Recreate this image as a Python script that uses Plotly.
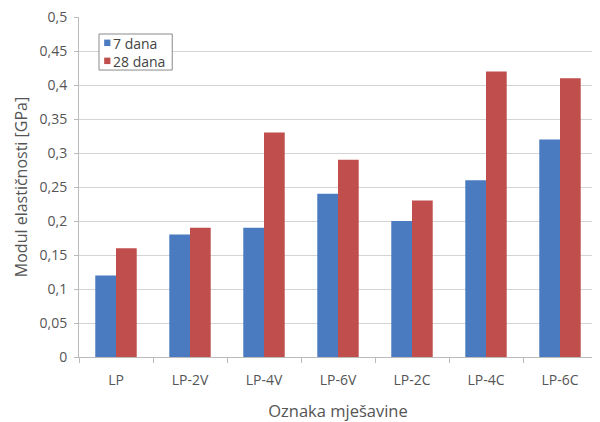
import plotly.graph_objects as go

categories = ["LP", "LP-2V", "LP-4V", "LP-6V", "LP-2C", "LP-4C", "LP-6C"]
days7 = [0.12, 0.18, 0.19, 0.24, 0.20, 0.26, 0.32]
days28 = [0.16, 0.19, 0.33, 0.29, 0.23, 0.42, 0.41]
series_names = ["7 dana", "28 dana"]
series_colors = ["#4a7bc0", "#bf4e4c"]
y_ticks = [0, 0.05, 0.1, 0.15, 0.2, 0.25, 0.3, 0.35, 0.4, 0.45, 0.5]
y_tick_labels = ["0", "0,05", "0,1", "0,15", "0,2", "0,25", "0,3", "0,35", "0,4", "0,45", "0,5"]

font_family = "Open Sans, Noto Sans, sans-serif"
text_color = "#555555"

fig = go.Figure()
for name, vals, col in zip(series_names, [days7, days28], series_colors):
    fig.add_trace(go.Bar(x=categories, y=vals, name=name,
                         marker=dict(color=col, line=dict(width=0))))

# compact legend drawn as box + squares + one text block (like the reference)
fig.add_shape(type="rect", xref="paper", yref="paper",
              x0=0.0386, x1=0.18, y0=0.844, y1=0.95,
              line=dict(color="#8a8a8a", width=1), fillcolor="white", layer="above")
legend_y = [0.924, 0.871]
for col, yy in zip(series_colors, legend_y):
    fig.add_shape(type="rect", xref="paper", yref="paper",
                  x0=0.0486, x1=0.0606, y0=yy - 0.0095, y1=yy + 0.0095,
                  line=dict(width=0), fillcolor=col, layer="above")
fig.add_annotation(xref="paper", yref="paper", x=0.062, y=0.897,
                   text="<br>".join(series_names), showarrow=False,
                   xanchor="left", yanchor="middle", align="left",
                   font=dict(size=14, color="#444444", family=font_family))

# page body has an 8px margin, so the figure is offset by (8, 8)
fig.update_layout(
    width=592, height=414,
    margin=dict(l=71, r=3, t=9, b=65),
    paper_bgcolor="white", plot_bgcolor="white",
    barmode="group", bargap=0.44, bargroupgap=0,
    separators=", ",
    font=dict(family=font_family, color=text_color, size=14),
    showlegend=False,
    xaxis=dict(
        automargin=False,
        showline=True, linecolor="#bbbbbb", linewidth=1,
        ticks="outside", tickson="boundaries", ticklen=5, tickcolor="#bbbbbb",
        ticklabelstandoff=10,
        tickfont=dict(size=14, color=text_color),
        title=dict(text="Oznaka mješavine", font=dict(size=16.5, color=text_color), standoff=18),
        showgrid=False,
    ),
    yaxis=dict(
        automargin=False,
        range=[0, 0.5], tickvals=y_ticks, ticktext=y_tick_labels,
        ticklabeloverflow="allow",
        showline=True, linecolor="#bbbbbb", linewidth=1,
        ticks="outside", ticklen=4, tickcolor="#bbbbbb",
        ticklabelstandoff=4,
        showgrid=True, gridcolor="#d4d4d4", gridwidth=1,
        zeroline=False,
        tickfont=dict(size=14, color=text_color),
        title=dict(text="Modul elastičnosti [GPa]", font=dict(size=16, color=text_color), standoff=7),
    ),
)

fig.write_html("out.html")
